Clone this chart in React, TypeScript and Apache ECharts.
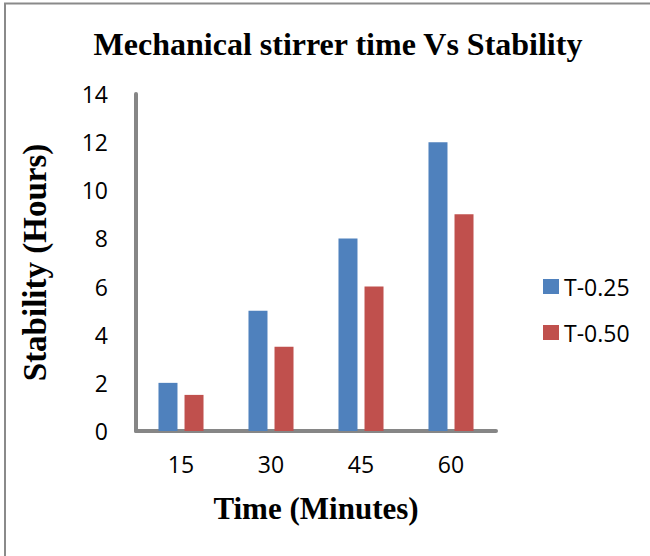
import React, { useEffect, useRef } from "react";
import * as echarts from "echarts";

const categories = ["15", "30", "45", "60"];
const seriesNames = ["T-0.25", "T-0.50"];
const t025 = [2, 5, 8, 12];
const t050 = [1.5, 3.5, 6, 9];
const colors = ["#4F81BD", "#C0504D"];

export default function App() {
  const ref = useRef<HTMLDivElement>(null);
  useEffect(() => {
    if (!ref.current) return;
    const chart = echarts.init(ref.current, null, { renderer: "svg" });
    const labelFont = "'Open Sans', 'Noto Sans', sans-serif";
    const serif = "'Liberation Serif', 'DejaVu Serif', serif";
    chart.setOption({
      animation: false,
      backgroundColor: "#fff",
      title: {
        text: "Mechanical stirrer time Vs Stability",
        left: 333,
        textAlign: "center",
        top: 23,
        textStyle: { fontFamily: serif, fontWeight: "bold", fontSize: 32, color: "#000" },
      },
      graphic: [
        {
          type: "polyline",
          shape: { points: [[5, 600], [5, 3.5], [660, 3.5]] },
          style: { stroke: "#8a8a8a", lineWidth: 2, fill: "none" },
        },
      ],
      legend: {
        orient: "vertical",
        left: 538,
        top: 270,
        itemGap: 23,
        itemWidth: 16,
        itemHeight: 15,
        icon: "rect",
        data: seriesNames,
        textStyle: { fontFamily: labelFont, fontSize: 23, color: "#000" },
      },
      grid: { left: 136, right: 154, top: 94, bottom: 125 },
      xAxis: {
        type: "category",
        data: categories,
        name: "Time (Minutes)",
        nameLocation: "middle",
        nameGap: 62,
        nameTextStyle: { fontFamily: serif, fontWeight: "bold", fontSize: 31, color: "#000" },
        axisLine: { lineStyle: { color: "#868686", width: 4 } },
        axisTick: { show: false },
        axisLabel: { fontFamily: labelFont, fontSize: 23, color: "#000", margin: 21 },
      },
      yAxis: {
        type: "value",
        min: 0,
        max: 14,
        interval: 2,
        name: "Stability (Hours)",
        nameLocation: "middle",
        nameGap: 85,
        nameTextStyle: { fontFamily: serif, fontWeight: "bold", fontSize: 33, color: "#000" },
        axisLine: { show: true, lineStyle: { color: "#868686", width: 4 } },
        axisTick: { show: false },
        splitLine: { show: false },
        axisLabel: { fontFamily: labelFont, fontSize: 23, color: "#000", margin: 28 },
      },
      series: [
        {
          name: seriesNames[0],
          type: "bar",
          data: t025,
          barWidth: 19,
          barGap: "37%",
          itemStyle: { color: colors[0] },
        },
        {
          name: seriesNames[1],
          type: "bar",
          data: t050,
          barWidth: 19,
          itemStyle: { color: colors[1] },
        },
      ],
    });
    return () => chart.dispose();
  }, []);
  return (
    <div
      ref={ref}
      style={{ position: "absolute", left: 0, top: 0, width: 650, height: 556 }}
    />
  );
}
